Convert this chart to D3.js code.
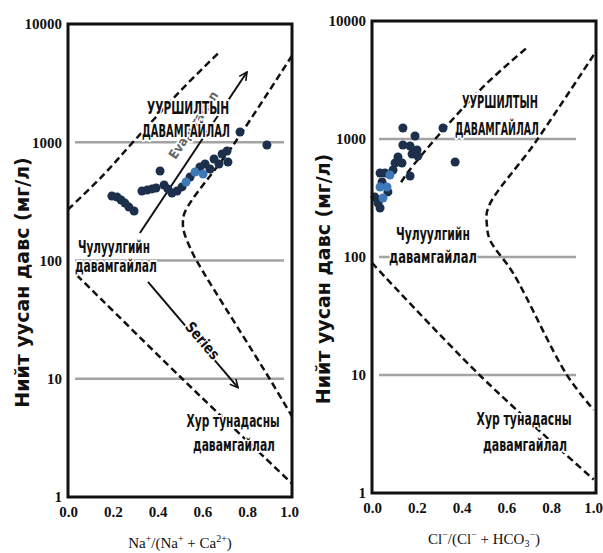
<!DOCTYPE html>
<html>
<head>
<meta charset="utf-8">
<script src="https://cdn.jsdelivr.net/npm/d3@7"></script>
<style>
  body { margin: 0; background: #fff; }
  svg { display: block; }
  .tick text { font-family: "Liberation Serif", "Times New Roman", serif; font-weight: bold; font-size: 15px; fill: #111; }
  .lbl { font-family: "DejaVu Sans", sans-serif; font-weight: bold; fill: #111;
         paint-order: stroke; stroke: #fff; stroke-width: 4px; stroke-linejoin: round; }
  .ytitle { font-family: "DejaVu Sans", sans-serif; font-weight: bold; font-size: 19px; fill: #111; }
  .xtitle { font-family: "Liberation Serif", "Times New Roman", serif; font-size: 15px; fill: #111; }
</style>
</head>
<body>
<svg width="603" height="553"></svg>
<script>
"use strict";

// axis values
const tdsTicks = [1, 10, 100, 1000, 10000];
const ratioTicks = [0, 0.2, 0.4, 0.6, 0.8, 1.0];
const gridValues = [10, 100, 1000];

// left panel: Na+/(Na+ + Ca2+) vs TDS (mg/l)
const naRatio = [0.196, 0.219, 0.237, 0.254, 0.272, 0.295, 0.330, 0.353, 0.375, 0.393, 0.411, 0.429, 0.446,
  0.464, 0.487, 0.509, 0.545, 0.589, 0.612, 0.634, 0.652, 0.674, 0.688, 0.710, 0.714, 0.888, 0.768];
const naTds = [351, 344, 325, 306, 283, 262, 387, 394, 403, 410, 571, 435, 403,
  372, 387, 419, 508, 618, 655, 594, 721, 655, 796, 844, 681, 948, 1220];
const naRatioBlue = [0.527, 0.567, 0.603];
const naTdsBlue = [461, 560, 538];

// right panel: Cl-/(Cl- + HCO3-) vs TDS (mg/l)
const clRatio = [0.138, 0.192, 0.138, 0.170, 0.201, 0.205, 0.179, 0.116, 0.103, 0.134, 0.094, 0.058, 0.036,
  0.170, 0.045, 0.071, 0.027, 0.036, 0.013, 0.317, 0.371];
const clTds = [1240, 1060, 890, 873, 807, 718, 746, 704, 626, 626, 546, 515, 515,
  486, 432, 356, 287, 260, 322, 1240, 638];
const clRatioBlue = [0.067, 0.036, 0.049, 0.080];
const clTdsBlue = [392, 392, 316, 495];

// Gibbs boundary curves [ratio, TDS]
const naUpper = [[0, 270], [0.15, 510], [0.3, 1050], [0.5, 2700], [0.68, 5900]];
const naRight = [[1.0, 5400], [0.74, 960], [0.522, 257], [0.513, 204], [0.518, 174], [0.554, 118],
  [0.589, 89], [0.9, 10], [1.0, 4.8]];
const naLower = [[0.04, 75], [0.51, 10], [1.0, 1.3]];
const clUpper = [[0.13, 430], [0.161, 525], [0.317, 1190], [0.513, 2970], [0.696, 6030]];
const clRight = [[0.99, 5160], [0.728, 930], [0.518, 260], [0.513, 186], [0.527, 139], [0.63, 73],
  [0.87, 10], [0.99, 5.05]];
const clLower = [[0, 89], [0.48, 10], [0.99, 1.3]];

const svg = d3.select("svg");

const defs = svg.append("defs");
defs.append("marker")
  .attr("id", "arrow")
  .attr("viewBox", "0 0 10 10")
  .attr("refX", 9).attr("refY", 5)
  .attr("markerWidth", 5).attr("markerHeight", 5)
  .attr("orient", "auto")
  .append("path")
  .attr("d", "M1,1 L9,5 L1,9")
  .attr("fill", "none")
  .attr("stroke", "#111")
  .attr("stroke-width", 1.6);

function panel(opt) {
  const xs = d3.scaleLinear().domain([0, 1]).range([opt.left, opt.right]);
  const ys = d3.scaleLog().domain([1, 10000]).range([opt.bottom, opt.top]);
  const g = svg.append("g");

  // grid
  g.selectAll(".grid")
    .data(gridValues)
    .enter()
    .append("line")
    .attr("x1", xs(0) + 7)
    .attr("x2", xs(1) - opt.gridInset)
    .attr("y1", (d) => ys(d))
    .attr("y2", (d) => ys(d))
    .attr("stroke", "#a3a3a3")
    .attr("stroke-width", 2.5);

  // boundary curves
  const line = d3.line()
    .x((d) => xs(d[0]))
    .y((d) => ys(d[1]))
    .curve(d3.curveCatmullRom);
  g.selectAll(".bound")
    .data(opt.curves)
    .enter()
    .append("path")
    .attr("d", line)
    .attr("fill", "none")
    .attr("stroke", "#111")
    .attr("stroke-width", 2.5)
    .attr("stroke-dasharray", "7,4");

  // arrows
  (opt.arrows || []).forEach((a) => {
    g.append("line")
      .attr("x1", xs(a.from[0])).attr("y1", ys(a.from[1]))
      .attr("x2", xs(a.to[0])).attr("y2", ys(a.to[1]))
      .attr("stroke", "#111")
      .attr("stroke-width", 2)
      .attr("marker-end", "url(#arrow)");
  });

  // points
  g.selectAll(".pt")
    .data(d3.zip(opt.xv, opt.yv))
    .enter()
    .append("circle")
    .attr("cx", (d) => xs(d[0]))
    .attr("cy", (d) => ys(d[1]))
    .attr("r", 4.5)
    .attr("fill", "#1d304b");
  g.selectAll(".ptb")
    .data(d3.zip(opt.xb, opt.yb))
    .enter()
    .append("circle")
    .attr("cx", (d) => xs(d[0]))
    .attr("cy", (d) => ys(d[1]))
    .attr("r", 4.5)
    .attr("fill", "#3d78b8");

  // arrow captions (rotated along their arrow)
  (opt.arrows || []).forEach((a) => {
    const x1 = xs(a.from[0]), y1 = ys(a.from[1]), x2 = xs(a.to[0]), y2 = ys(a.to[1]);
    const ang = Math.atan2(y2 - y1, x2 - x1) * 180 / Math.PI;
    g.append("text")
      .attr("class", "lbl")
      .attr("transform", `translate(${xs(a.at[0])},${ys(a.at[1])}) rotate(${ang})`)
      .attr("text-anchor", "middle")
      .attr("dominant-baseline", "central")
      .attr("textLength", a.len)
      .attr("lengthAdjust", "spacingAndGlyphs")
      .style("font-size", a.size + "px")
      .style("fill", a.color)
      .text(a.text);
  });

  // region labels, squeezed to the narrow bold look of the figure
  g.selectAll(".lab")
    .data(opt.labels)
    .enter()
    .append("text")
    .attr("class", "lbl")
    .attr("x", (d) => xs(d.at[0]))
    .attr("y", (d) => ys(d.at[1]))
    .attr("text-anchor", "middle")
    .attr("dominant-baseline", "central")
    .attr("textLength", (d) => d.len)
    .attr("lengthAdjust", "spacingAndGlyphs")
    .style("font-size", (d) => d.size + "px")
    .text((d) => d.text);

  // frame
  g.append("rect")
    .attr("x", xs(0)).attr("y", ys(10000))
    .attr("width", xs(1) - xs(0))
    .attr("height", ys(1) - ys(10000))
    .attr("fill", "none")
    .attr("stroke", "#111")
    .attr("stroke-width", 3);

  // axes
  const yAxis = d3.axisLeft(ys).tickValues(tdsTicks).tickFormat(d3.format("d")).tickSize(0).tickPadding(6);
  g.append("g").attr("transform", `translate(${xs(0)},0)`).call(yAxis).select(".domain").remove();
  const xAxis = d3.axisBottom(xs).tickValues(ratioTicks).tickFormat(d3.format(".1f")).tickSize(0).tickPadding(9);
  const xg = g.append("g").attr("transform", `translate(0,${ys(1)})`).call(xAxis);
  xg.select(".domain").remove();
  xg.selectAll(".tick text").filter((d) => d === 1).attr("dx", -3);

  // titles
  g.append("text")
    .attr("class", "ytitle")
    .attr("transform", `translate(${opt.yTitleX},${(ys(1) + ys(10000)) / 2 + 22}) rotate(-90)`)
    .attr("text-anchor", "middle")
    .attr("dominant-baseline", "central")
    .text("Нийт уусан давс (мг/л)");

  const xt = g.append("text")
    .attr("class", "xtitle")
    .attr("x", (xs(0) + xs(1)) / 2)
    .attr("y", ys(1) + 51)
    .attr("text-anchor", "middle");
  opt.xTitle.forEach((p) => {
    const t = xt.append("tspan").text(p.t).attr("dy", p.dy || 0);
    if (p.small) t.style("font-size", "10px");
  });
}

panel({
  left: 68, right: 292, top: 24, bottom: 497, gridInset: 8, yTitleX: 22,
  xv: naRatio, yv: naTds, xb: naRatioBlue, yb: naTdsBlue,
  curves: [naUpper, naRight, naLower],
  arrows: [
    { from: [0.321, 171], to: [0.799, 3930], at: [0.56, 1400], text: "Evaporation", size: 13, len: 78, color: "#666" },
    { from: [0.357, 66], to: [0.759, 8.4], at: [0.6, 21], text: "Series", size: 15, len: 44, color: "#111" }
  ],
  labels: [
    { text: "УУРШИЛТЫН", at: [0.536, 1950], size: 17, len: 82 },
    { text: "ДАВАМГАЙЛАЛ", at: [0.527, 1245], size: 17, len: 88 },
    { text: "Чулуулгийн", at: [0.205, 130], size: 17, len: 72 },
    { text: "давамгайлал", at: [0.214, 90], size: 17, len: 82 },
    { text: "Хур тунадасны", at: [0.737, 4.4], size: 17, len: 93 },
    { text: "давамгайлал", at: [0.741, 2.75], size: 17, len: 82 }
  ],
  xTitle: [{ t: "Na" }, { t: "+", dy: -6, small: true }, { t: "/(Na", dy: 6 }, { t: "+", dy: -6, small: true },
    { t: " + Ca", dy: 6 }, { t: "2+", dy: -6, small: true }, { t: ")", dy: 6 }]
});

panel({
  left: 372, right: 596, top: 21, bottom: 493, gridInset: 20, yTitleX: 323,
  xv: clRatio, yv: clTds, xb: clRatioBlue, yb: clTdsBlue,
  curves: [clUpper, clRight, clLower],
  labels: [
    { text: "УУРШИЛТЫН", at: [0.571, 2060], size: 17, len: 76 },
    { text: "ДАВАМГАЙЛАЛ", at: [0.558, 1215], size: 17, len: 84 },
    { text: "Чулуулгийн", at: [0.272, 157], size: 17, len: 74 },
    { text: "давамгайлал", at: [0.272, 100], size: 17, len: 88 },
    { text: "Хур тунадасны", at: [0.679, 4.24], size: 17, len: 95 },
    { text: "давамгайлал", at: [0.683, 2.55], size: 17, len: 84 }
  ],
  xTitle: [{ t: "Cl" }, { t: "−", dy: -6, small: true }, { t: "/(Cl", dy: 6 }, { t: "−", dy: -6, small: true },
    { t: " + HCO", dy: 6 }, { t: "3", dy: 3, small: true }, { t: "−", dy: -9, small: true }, { t: ")", dy: 6 }]
});
</script>
</body>
</html>
